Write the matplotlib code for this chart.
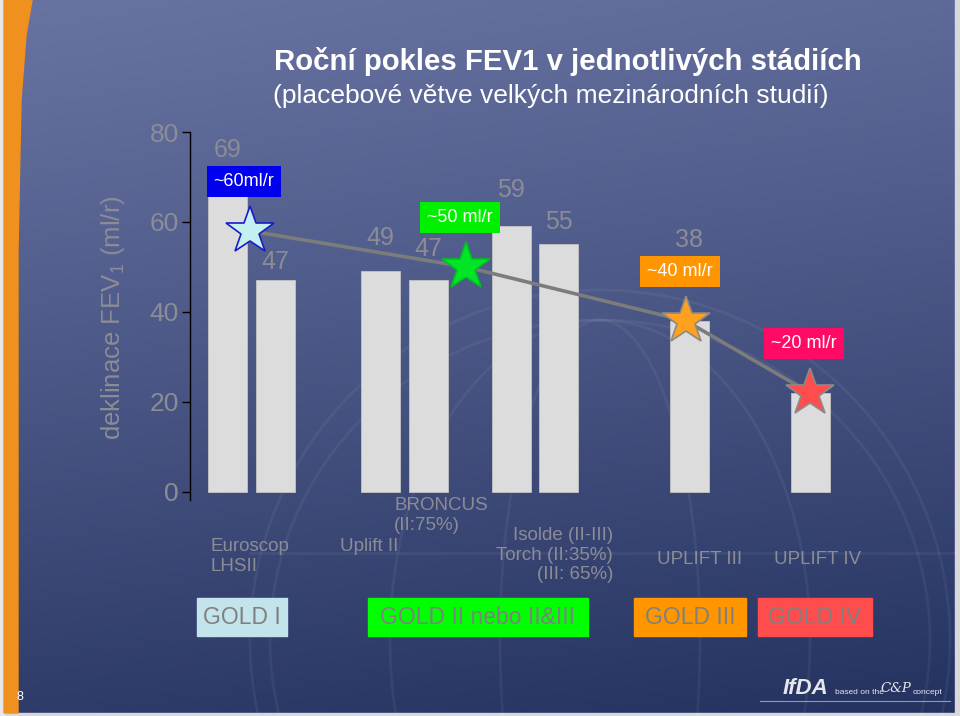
import matplotlib.pyplot as plt
import numpy as np
from matplotlib.patches import Rectangle, Polygon, Ellipse

plt.rcParams['font.family'] = ['Liberation Sans', 'DejaVu Sans']
plt.rcParams['mathtext.fontset'] = 'custom'
plt.rcParams['mathtext.rm'] = 'Liberation Sans'

# data
bar_values = [69, 47, 49, 47, 59, 55, 38, 22]
bar_labels = ['69', '47', '49', '47', '59', '55', '38', None]
star_values = [58, 50, 38, 22]
star_texts = ['~60ml/r', '~50 ml/r', '~40 ml/r', '~20 ml/r']
studies = ['Euroscop\nLHSII', 'Uplift II', 'BRONCUS\n(II:75%)',
           'Isolde (II-III)\nTorch (II:35%)\n(III: 65%)', 'UPLIFT III', 'UPLIFT IV']
gold_names = ['GOLD I', 'GOLD II nebo II&III', 'GOLD III', 'GOLD IV']
y_ticks = [0, 20, 40, 60, 80]

# layout (axis x units = pixels right of the y axis)
bar_pos = [37.5, 85.5, 190, 238.5, 321, 368.5, 499, 620.5]
label_gap = [7, 4, 7.5, 7, 8, 5, 18, 0]
star_pos = [60, 276, 496, 620]
star_face = ['#c4f0f2', '#00e626', '#ffa01e', '#ff4d4d']
star_edge = ['#1a1acc', '#00c020', '#8a8a8a', '#8a8a8a']
box_colors = ['#0000ee', '#00f000', '#ff9500', '#ff0a64']
gold_colors = ['#c2e4ea', '#00ff00', '#ff9600', '#ff4c4c']
gold_x = [(197, 287), (368, 588), (634, 746), (758, 872)]
gray = '#8c8c96'

fig = plt.figure(figsize=(9.6, 7.16), dpi=100)

# slide background
bg = fig.add_axes([0, 0, 1, 1])
bg.set_xlim(0, 960)
bg.set_ylim(716, 0)
bg.axis('off')
yy, xx = np.mgrid[0:1:300j, 0:1:300j]
t = np.clip(0.85 * yy ** 1.1 + 0.15 * xx, 0, 1)
top = np.array([104, 115, 162]) / 255
bot = np.array([36, 50, 96]) / 255
img = top[None, None, :] * (1 - t[..., None]) + bot[None, None, :] * t[..., None]
bg.imshow(img, extent=(0, 960, 716, 0), aspect='auto', zorder=0)
bg.add_patch(Rectangle((955, 0), 5, 716, color='#d8d8dc', zorder=1))
bg.add_patch(Rectangle((0, 713), 960, 3, color='#d8d8dc', zorder=1))
bg.add_patch(Rectangle((0, 0), 4, 716, color='#e8e8ea', zorder=1))
bg.add_patch(Polygon([(4, 0), (32, 0), (26, 35), (21, 100), (18, 250), (18, 713), (4, 713)],
                     color='#f0901e', zorder=1))
# faint globe
for w in [660, 420, 200]:
    bg.add_patch(Ellipse((600, 640), w, 640, fill=False, ec='white', alpha=0.05, lw=2, zorder=1))
bg.add_patch(Ellipse((600, 640), 700, 700, fill=False, ec='white', alpha=0.05, lw=2, zorder=1))
bg.plot([250, 955], [553, 553], color='white', alpha=0.05, lw=2, zorder=1)

# titles
bg.text(568, 62, 'Roční pokles FEV1 v jednotlivých stádiích', ha='center', va='center',
        fontsize=21.2, fontweight='bold', color='white', zorder=5)
bg.text(551, 96, '(placebové větve velkých mezinárodních studií)', ha='center', va='center',
        fontsize=19, color='white', zorder=5)
bg.text(113, 318, 'deklinace FEV$_1$ (ml/r)', rotation=90, ha='center', va='center',
        fontsize=18.5, color=gray, zorder=5)

# chart
ax = fig.add_axes([190 / 960, 216 / 716, 690 / 960, 368 / 716])
ax.patch.set_alpha(0)
ax.set_xlim(0, 690)
ax.set_ylim(-1.8, 80)
for s in ['top', 'right', 'bottom']:
    ax.spines[s].set_visible(False)
ax.spines['left'].set_color('black')
ax.spines['left'].set_linewidth(1)
ax.set_xticks([])
ax.set_yticks(y_ticks)
ax.tick_params(axis='y', direction='out', length=6, width=1, color='black',
               labelsize=19, labelcolor=gray, pad=2)

ax.bar(bar_pos, bar_values, width=39, color='#dcdcdc', edgecolor='#c4c4c4', lw=0.6, zorder=2)
for x, v, lab, g in zip(bar_pos, bar_values, bar_labels, label_gap):
    if lab:
        ax.text(x, v + g, lab, ha='center', va='center', fontsize=18, color=gray, zorder=3)

ax.plot(star_pos, star_values, color='#7c7c7c', lw=2.6, zorder=3)
for x, v, fc, ec in zip(star_pos, star_values, star_face, star_edge):
    ax.plot(x, v, marker='*', ms=36, mfc=fc, mec=ec, mew=1.2, zorder=4)
for x, v, txt, bc in zip(star_pos, star_values, star_texts, box_colors):
    ax.text(x - 6, v + 11, txt, ha='center', va='center', fontsize=13, color='white', zorder=5,
            bbox=dict(boxstyle='square,pad=0.38', fc=bc, ec='none'))

# study names
bg.text(211, 538, studies[0], ha='left', va='top', fontsize=13.5, color=gray, linespacing=1.25, zorder=5)
bg.text(340, 538, studies[1], ha='left', va='top', fontsize=13.5, color=gray, zorder=5)
bg.text(394, 497, studies[2], ha='left', va='top', fontsize=13.5, color=gray, linespacing=1.25, zorder=5)
bg.text(613, 527, studies[3], ha='right', va='top', fontsize=13.5, color=gray,
        linespacing=1.2, multialignment='right', zorder=5)
bg.text(700, 560, studies[4], ha='center', va='center', fontsize=13.5, color=gray, zorder=5)
bg.text(818, 560, studies[5], ha='center', va='center', fontsize=13.5, color=gray, zorder=5)

# GOLD boxes
for (x0, x1), name, c in zip(gold_x, gold_names, gold_colors):
    bg.add_patch(Rectangle((x0, 598), x1 - x0, 38, color=c, zorder=4))
    bg.text((x0 + x1) / 2, 618, name, ha='center', va='center', fontsize=16.5, color='#808080', zorder=5)

# footer
bg.text(20, 697, '8', ha='center', va='center', fontsize=9, color='white', zorder=5)
bg.text(783, 689, 'IfDA', ha='left', va='center', fontsize=16, fontweight='bold', style='italic',
        color='#e6e6ee', zorder=5)
bg.text(835, 692, 'based on the', ha='left', va='center', fontsize=6, color='#e6e6ee', zorder=5)
bg.text(880, 688, 'C&P', ha='left', va='center', fontsize=9.5, family='DejaVu Serif',
        style='italic', color='#e6e6ee', zorder=5)
bg.text(913, 692, 'concept', ha='left', va='center', fontsize=6, color='#e6e6ee', zorder=5)
bg.plot([760, 950], [701, 701], color='white', alpha=0.5, lw=0.8, zorder=5)

fig.savefig('out.png', dpi=100)
